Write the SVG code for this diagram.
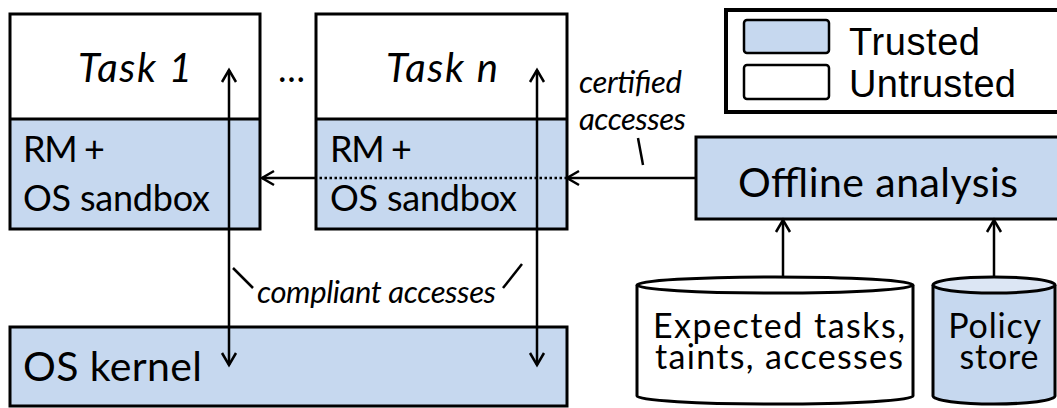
<svg xmlns="http://www.w3.org/2000/svg" width="1057" height="408" viewBox="0 0 1057 408">
  <style>
    .edge { stroke: #000; stroke-width: 3; }
    .trusted { fill: #C6D8EF; }
    .untrusted { fill: #FFFFFF; }
    .cap { fill: #DCE6F4; }
    .lbl { font-family: Lato, "Open Sans", "Liberation Sans", sans-serif; fill: #000; }
    .it { font-style: italic; }
    .key { font-family: "Liberation Sans", Arial, sans-serif; font-size: 38px; fill: #000; }
    .conn { stroke: #000; stroke-width: 2.5; fill: none; }
    .dots { stroke: #000; stroke-width: 2.5; stroke-dasharray: 2.5 2.5; fill: none; }
  </style>
  <defs>
    <marker id="head" viewBox="-3 -3 19 20" refX="12" refY="7" markerWidth="19" markerHeight="20" markerUnits="userSpaceOnUse" orient="auto-start-reverse">
      <path d="M0,0 L12,7 L0,14" fill="none" stroke="#000" stroke-width="2.5"/>
    </marker>
  </defs>

  <rect width="1057" height="408" fill="#FFFFFF"/>

  <!-- Task 1 -->
  <g id="task1">
    <rect x="10" y="14" width="250" height="105" class="untrusted"/>
    <rect x="10" y="119" width="250" height="110" class="trusted"/>
    <rect x="10" y="14" width="250" height="215" fill="none" class="edge"/>
    <line x1="10" y1="119" x2="260" y2="119" class="edge"/>
    <text class="lbl it" x="78" y="82" font-size="40" textLength="114">Task 1</text>
    <text class="lbl" x="23" y="162" font-size="36" textLength="82">RM +</text>
    <text class="lbl" x="23" y="211" font-size="36" textLength="187">OS sandbox</text>
  </g>

  <g id="ellipsis">
    <text class="lbl" x="278" y="82" font-size="36" textLength="24">…</text>
  </g>

  <!-- Task n -->
  <g id="taskn">
    <rect x="316" y="14" width="251" height="105" class="untrusted"/>
    <rect x="316" y="119" width="251" height="110" class="trusted"/>
    <rect x="316" y="14" width="251" height="215" fill="none" class="edge"/>
    <line x1="316" y1="119" x2="567" y2="119" class="edge"/>
    <text class="lbl it" x="386" y="82" font-size="40" textLength="112">Task n</text>
    <text class="lbl" x="330" y="162" font-size="36" textLength="82">RM +</text>
    <text class="lbl" x="330" y="211" font-size="36" textLength="187">OS sandbox</text>
  </g>

  <!-- OS kernel -->
  <g id="kernel">
    <rect x="10" y="327" width="557" height="79" class="trusted edge"/>
    <text class="lbl" x="23" y="381" font-size="41" textLength="179">OS kernel</text>
  </g>

  <!-- Legend -->
  <g id="legend">
    <rect x="726" y="10" width="400" height="102" fill="#FFFFFF" stroke="#000" stroke-width="4"/>
    <rect x="744" y="20" width="85" height="33" rx="3" class="trusted" stroke="#000" stroke-width="2.5"/>
    <rect x="744" y="65" width="85" height="34" rx="3" class="untrusted" stroke="#000" stroke-width="2.5"/>
    <text class="key" x="849" y="55" textLength="131">Trusted</text>
    <text class="key" x="849" y="97" textLength="167">Untrusted</text>
  </g>

  <!-- Offline analysis -->
  <g id="offline">
    <rect x="696" y="137" width="400" height="82" class="trusted edge"/>
    <text class="lbl" x="738" y="197" font-size="41" textLength="280">Offline analysis</text>
  </g>

  <!-- Expected tasks store -->
  <g id="expected">
    <path d="M637,285 L637,396 A138,8 0 0 0 913,396 L913,285" class="untrusted edge"/>
    <ellipse cx="775" cy="285" rx="138" ry="8" class="untrusted edge"/>
    <text class="lbl" font-size="34">
      <tspan x="653" y="338" textLength="252">Expected tasks,</tspan>
      <tspan x="655" y="369" textLength="248">taints, accesses</tspan>
    </text>
  </g>

  <!-- Policy store -->
  <g id="policy">
    <path d="M933,285 L933,396 A61,8 0 0 0 1055,396 L1055,285" class="trusted edge"/>
    <ellipse cx="994" cy="285" rx="61" ry="8" class="cap edge"/>
    <text class="lbl" font-size="34" text-anchor="middle">
      <tspan x="999" y="338" textLength="92">Policy</tspan>
      <tspan x="999" y="369" textLength="79">store</tspan>
    </text>
  </g>

  <!-- Connectors -->
  <g id="connectors">
    <line x1="229" y1="70" x2="229" y2="365" class="conn" marker-start="url(#head)" marker-end="url(#head)"/>
    <line x1="537" y1="70" x2="537" y2="365" class="conn" marker-start="url(#head)" marker-end="url(#head)"/>
    <line x1="696" y1="178" x2="567" y2="178" class="conn" marker-end="url(#head)"/>
    <line x1="567" y1="178" x2="316" y2="178" class="dots"/>
    <line x1="316" y1="178" x2="262" y2="178" class="conn" marker-end="url(#head)"/>
    <line x1="783" y1="277" x2="783" y2="220" class="conn" marker-end="url(#head)"/>
    <line x1="994" y1="277" x2="994" y2="220" class="conn" marker-end="url(#head)"/>

    <!-- label leaders -->
    <line x1="233" y1="268" x2="253" y2="288" class="conn"/>
    <line x1="503" y1="288" x2="522" y2="264" class="conn"/>
    <line x1="638" y1="138" x2="643" y2="165" class="conn"/>

    <text class="lbl it" x="257" y="303" font-size="31" textLength="239">compliant accesses</text>
    <text class="lbl it" font-size="31">
      <tspan x="579" y="93" textLength="103">certified</tspan>
      <tspan x="579" y="130" textLength="107">accesses</tspan>
    </text>
  </g>
</svg>
